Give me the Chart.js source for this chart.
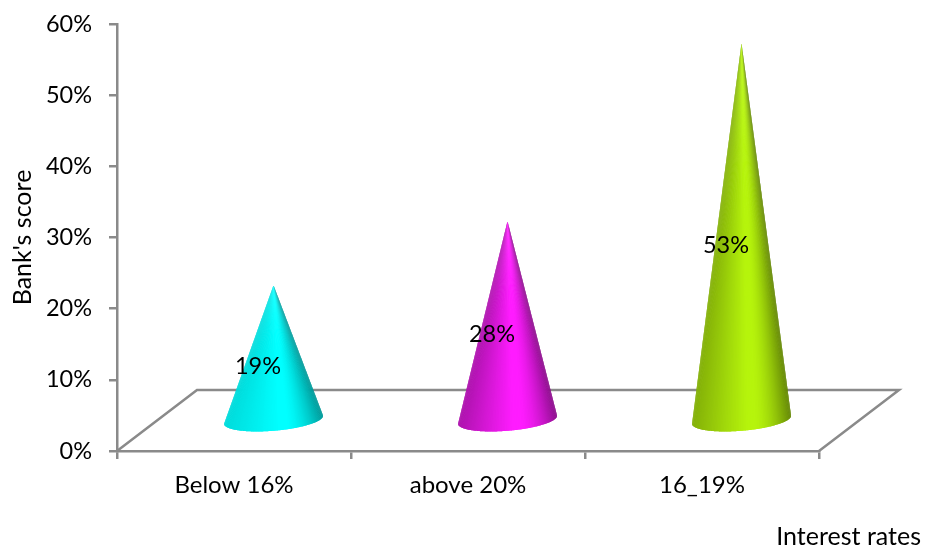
<!DOCTYPE html>
<html>
<head>
<meta charset="utf-8">
<style>
  html, body { margin: 0; padding: 0; background: #fff; }
  #wrap { width: 926px; height: 547px; }
</style>
<script src="https://cdn.jsdelivr.net/npm/chart.js@4/dist/chart.umd.js"></script>
</head>
<body>
<div id="wrap"><canvas id="chart" width="926" height="547"></canvas></div>
<script>
const categories = ["Below 16%", "above 20%", "16_19%"];
const scores = [19, 28, 53];
const coneBright = ["#00ffff", "#ff1cff", "#b6f40c"];
const coneLeftEdge = [0.86, 0.68, 0.72];
const coneRightEdge = [0.6, 0.55, 0.55];
const yTicks = [0, 10, 20, 30, 40, 50, 60];
const xTitle = "Interest rates";
const yTitle = "Bank's score";

const AXIS = "#8a8a8a";
const FONT = "Lato, 'Open Sans', sans-serif";
const FONT_SIZE = 23.5;
const CATEGORY_SIZE = 24;
const TITLE_SIZE = 25;

// Oblique depth of the floor, in pixels
const DEPTH_X = 80;
const DEPTH_Y = 61;

function mix(hex, k) {
  const n = parseInt(hex.slice(1), 16);
  const r = (n >> 16) & 255, g = (n >> 8) & 255, b = n & 255;
  return `rgb(${Math.round(r * k)},${Math.round(g * k)},${Math.round(b * k)})`;
}

// Brightness across the cone, 0 = left silhouette, 1 = right silhouette
function shade(t, left, right) {
  if (t < 0.55) return left + (1 - left) * (t / 0.55);
  if (t < 0.62) return 1;
  return 1 - (1 - right) * Math.pow((t - 0.62) / 0.38, 1.6);
}

// Cone drawn as a fan of slivers from the apex to the tilted base ellipse;
// each sliver runs under the next one so no seams show
function drawCone(ctx, cx, cy, apexY, i) {
  const a = 49.7, b = 11, tilt = -4.8 * Math.PI / 180;
  const cos = Math.cos(tilt), sin = Math.sin(tilt);
  const point = th => {
    const ex = a * Math.cos(th), ey = b * Math.sin(th);
    return [cx + ex * cos - ey * sin, cy + ex * sin + ey * cos];
  };
  const N = 90;
  const steps = 6;
  for (let n = 0; n < N; n++) {
    const t0 = Math.PI - (n / N) * Math.PI;
    const p0 = point(t0);
    const frac = (p0[0] - (cx - a)) / (2 * a);
    ctx.beginPath();
    ctx.moveTo(cx, apexY);
    ctx.lineTo(p0[0], p0[1]);
    for (let s = 1; s <= steps; s++) {
      const th = Math.max(0, t0 - (s / steps) * (Math.PI * 2 / N));
      const p = point(th);
      ctx.lineTo(p[0], p[1]);
    }
    ctx.closePath();
    ctx.fillStyle = mix(coneBright[i], shade(frac, coneLeftEdge[i], coneRightEdge[i]));
    ctx.fill();
  }
}

const coneChart = {
  id: "coneChart",
  beforeDatasetsDraw(chart) {
    // Floor outline; the front edge is the x axis line
    const { ctx, chartArea: area } = chart;
    ctx.save();
    ctx.strokeStyle = AXIS;
    ctx.lineWidth = 2.5;
    ctx.beginPath();
    ctx.moveTo(area.left, area.bottom);
    ctx.lineTo(area.left + DEPTH_X, area.bottom - DEPTH_Y);
    ctx.lineTo(area.right + DEPTH_X, area.bottom - DEPTH_Y);
    ctx.lineTo(area.right, area.bottom);
    ctx.stroke();
    ctx.restore();
  },
  beforeDatasetDraw(chart, args) {
    // Replaces the flat bar with a cone standing mid-way back on the floor
    const { ctx } = chart;
    const meta = chart.getDatasetMeta(args.index);
    ctx.save();
    meta.data.forEach((bar, i) => {
      drawCone(ctx, bar.x + DEPTH_X / 2 - 0.5, bar.base - DEPTH_Y / 2 + 0.5, bar.y - DEPTH_Y / 2, i);
    });
    ctx.restore();
    return false;
  },
  afterDatasetsDraw(chart) {
    const { ctx, scales } = chart;
    const meta = chart.getDatasetMeta(0);
    ctx.save();
    ctx.font = `${FONT_SIZE}px ${FONT}`;
    ctx.fillStyle = "#000";
    ctx.textAlign = "center";
    ctx.textBaseline = "middle";
    meta.data.forEach((bar, i) => {
      ctx.fillText(scores[i] + "%", bar.x + 24, (bar.y + bar.base) / 2 - 16.5);
    });
    ctx.font = `${TITLE_SIZE}px ${FONT}`;
    ctx.textAlign = "right";
    ctx.fillText(xTitle, 921, scales.x.top + 86);
    ctx.restore();
  }
};

new Chart(document.getElementById("chart"), {
  type: "bar",
  data: {
    labels: categories,
    datasets: [{ label: yTitle, data: scores, backgroundColor: coneBright }]
  },
  plugins: [coneChart],
  options: {
    responsive: false,
    animation: false,
    layout: { padding: { left: 8, right: 107, top: 24, bottom: 0 } },
    plugins: { legend: { display: false }, tooltip: { enabled: false } },
    scales: {
      x: {
        grid: { display: true, drawOnChartArea: false, color: AXIS, lineWidth: 2.5, tickLength: 8 },
        border: { color: AXIS, width: 2.5 },
        ticks: { color: "#000", font: { family: FONT, size: CATEGORY_SIZE }, padding: 12, maxRotation: 0 },
        afterFit(s) { s.height = 96; s.paddingBottom = 0; s.paddingLeft = 0; s.paddingRight = 0; }
      },
      y: {
        min: 0,
        max: 60,
        afterBuildTicks(s) { s.ticks = yTicks.map(v => ({ value: v })); },
        grid: { display: true, drawOnChartArea: false, color: AXIS, lineWidth: 2.5, tickLength: 8 },
        border: { color: AXIS, width: 2.5 },
        ticks: { color: "#000", font: { family: FONT, size: FONT_SIZE }, padding: 17, callback: v => v + "%" },
        title: { display: true, text: yTitle, color: "#000", font: { family: FONT, size: TITLE_SIZE }, padding: 0 },
        afterFit(s) { s.width = 109; s.paddingTop = 0; s.paddingBottom = 0; }
      }
    }
  }
});
</script>
</body>
</html>
